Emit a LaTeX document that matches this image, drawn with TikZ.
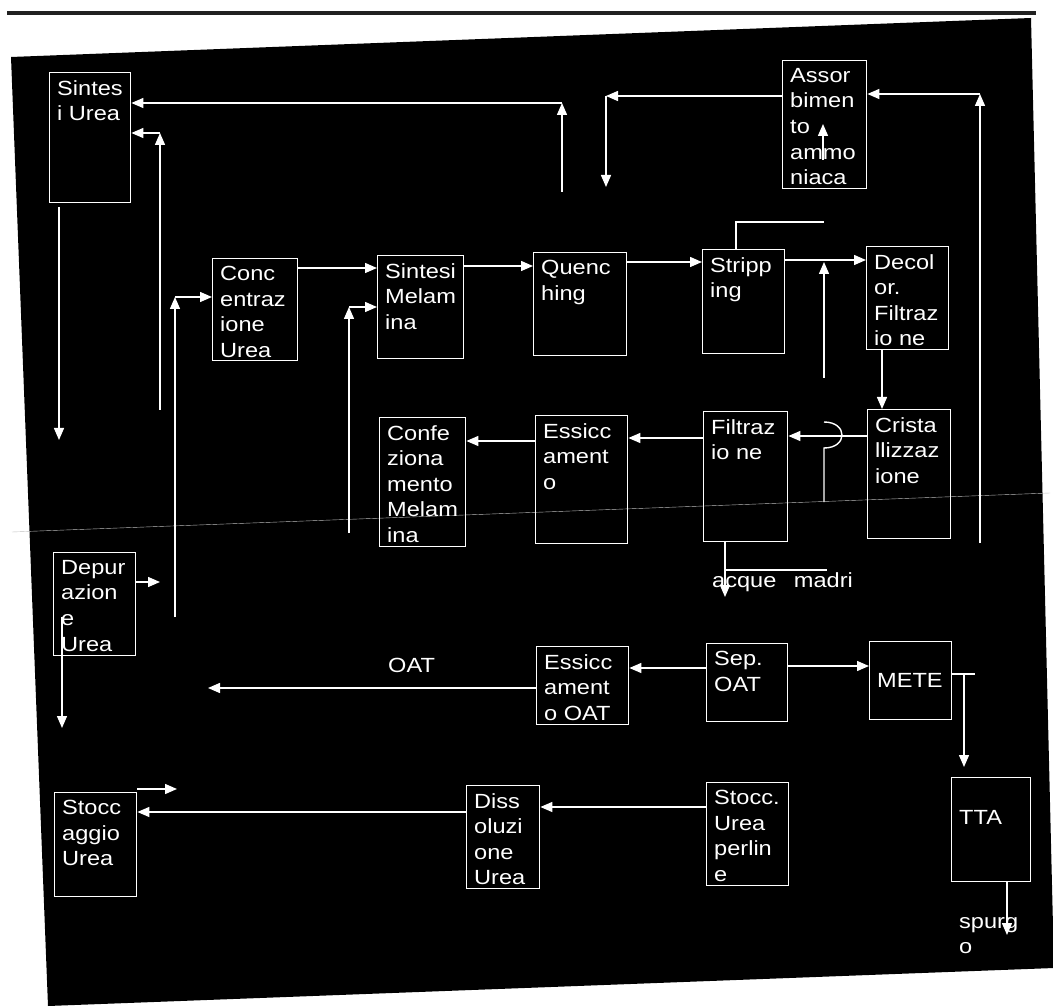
\documentclass[tikz,border=0pt]{standalone}
\usepackage{fontspec}
\setmainfont{Liberation Sans}[FakeStretch=1.15]
\usetikzlibrary{arrows.meta,positioning}

\begin{document}
\begin{tikzpicture}[x=1pt,y=-1pt,
    box/.style={draw=white,line width=1.4pt,anchor=north west,inner sep=0pt},
    txt/.style={anchor=north west,align=left,inner xsep=8pt,inner ysep=8pt,
      text=white,font=\fontsize{20.5}{25.6}\selectfont},
    lbl/.style={inner sep=0pt,align=left,text=white,
      font=\fontsize{20.5}{25.6}\selectfont},
    wire/.style={white,line width=1.4pt},
    arr/.style={wire,-{Triangle[length=12pt,width=10pt]}}
  ]
  \useasboundingbox (0,0) rectangle (1053,1008);
  \fill[white] (0,0) rectangle (1053,1008);
  \fill[black!87] (7,11) rectangle (1036,15);
  \fill[black] (11,57) -- (1031,18) -- (1054,968) -- (48,1006) -- cycle;
  \draw[white!75!black,line width=0.4pt] (12,532) -- (1050,493);

  % boxes
  \node[box,minimum width=81pt,minimum height=130pt,
    label={[txt]north west:{Sintes\\i Urea}}] (sintes) at (49,72) {};
  \node[box,minimum width=84pt,minimum height=128pt,
    label={[txt]north west:{Assor\\bimen\\to\\ammo\\niaca}}] (assor) at (782,60) {};
  \node[box,minimum width=85pt,minimum height=102pt,
    label={[txt]north west:{Conc\\entraz\\ione\\Urea}}] (conc) at (212,258) {};
  \node[box,minimum width=86pt,minimum height=103pt,
    label={[txt]north west:{Sintesi\\Melam\\ina}}] (sintmel) at (377,255) {};
  \node[box,minimum width=93pt,minimum height=103pt,
    label={[txt]north west:{Quenc\\hing}}] (quench) at (533,252) {};
  \node[box,minimum width=82pt,minimum height=104pt,
    label={[txt]north west:{Stripp\\ing}}] (strip) at (702,249) {};
  \node[box,minimum width=82pt,minimum height=103pt,
    label={[txt]north west:{Decol\\or.\\Filtraz\\io ne}}] (decol) at (866,246) {};
  \node[box,minimum width=83pt,minimum height=129pt,
    label={[txt]north west:{Crista\\llizzaz\\ione}}] (crista) at (867,409) {};
  \node[box,minimum width=84pt,minimum height=130pt,
    label={[txt]north west:{Filtraz\\io ne}}] (filtr) at (703,411) {};
  \node[box,minimum width=92pt,minimum height=128pt,
    label={[txt]north west:{Essicc\\ament\\o}}] (essicc) at (535,415) {};
  \node[box,minimum width=86pt,minimum height=129pt,
    label={[txt]north west:{Confe\\ziona\\mento\\Melam\\ina}}] (confez) at (379,417) {};
  \node[box,minimum width=82pt,minimum height=103pt,
    label={[txt]north west:{Depur\\azion\\e\\Urea}}] (depur) at (53,552) {};
  \node[box,minimum width=92pt,minimum height=78pt,
    label={[txt]north west:{Essicc\\ament\\o OAT}}] (essoat) at (536,646) {};
  \node[box,minimum width=81pt,minimum height=78pt,
    label={[txt]north west:{Sep.\\OAT}}] (sepoat) at (706,643) {};
  \node[box,minimum width=82pt,minimum height=78pt,
    label={[txt,anchor=west]west:METE}] (mete) at (869,641) {};
  \node[box,minimum width=79pt,minimum height=104pt,
    label={[txt,inner ysep=33pt]north west:TTA}] (tta) at (951,777) {};
  \node[box,minimum width=82pt,minimum height=103pt,
    label={[txt]north west:{Stocc.\\Urea\\perlin\\e}}] (stoccper) at (706,782) {};
  \node[box,minimum width=73pt,minimum height=103pt,
    label={[txt]north west:{Diss\\oluzi\\one\\Urea}}] (dissol) at (466,785) {};
  \node[box,minimum width=82pt,minimum height=104pt,
    label={[txt]north west:{Stocc\\aggio\\Urea}}] (stocc) at (54,792) {};

  % free texts
  \node[lbl,anchor=base west] (oat) at (388,672) {OAT};
  \node[lbl,anchor=base west] (acque) at (712,587) {acque\hspace{11pt} madri};
  \node[lbl,anchor=north west] (spurgo) at (959,917) {spurg\\o};

  % free ends
  \coordinate (qtop) at (562,192);
  \coordinate (qbend) at (562,103);
  \coordinate (rbot) at (160,410);
  \coordinate (rbend) at (160,133);
  \coordinate (sdtop) at (59,207);
  \coordinate (sdbot) at (59,440);
  \coordinate (abot) at (980,543);
  \coordinate (abend) at (980,94);
  \coordinate (lbend) at (606,96);
  \coordinate (lbot) at (606,187);
  \coordinate (ain) at (823,160);
  \coordinate (aout) at (823,124);
  \coordinate (cbot) at (175,617);
  \coordinate (cbend) at (175,297);
  \coordinate (mbot) at (349,533);
  \coordinate (mbend) at (349,307);
  \coordinate (send) at (824,222);
  \coordinate (htop) at (824,378);
  \coordinate (hend) at (824,262);
  \coordinate (hbot) at (824,502);
  \coordinate (hlow) at (824,448);
  \coordinate (hup) at (824,422);
  \coordinate (wbot) at (725,597);
  \coordinate (wmid) at (725,570);
  \coordinate (wend) at (827,570);
  \coordinate (dend) at (160,582);
  \coordinate (dtop) at (62,617);
  \coordinate (dbot) at (62,728);
  \coordinate (oend) at (208,688);
  \coordinate (tend) at (975,674);
  \coordinate (tbend) at (964,674);
  \coordinate (tbot) at (964,767);
  \coordinate (pbot) at (1007,935);
  \coordinate (uend) at (177,789);

  % top loops
  \draw[arr] (qtop) -- (qbend);
  \draw[arr] (qbend) -- (sintes.east |- qbend);
  \draw[arr] (rbot) -- (rbend);
  \draw[arr] (rbend) -- (sintes.east |- rbend);
  \draw[arr] (sdtop) -- (sdbot);
  \draw[arr] (abot) -- (abend);
  \draw[arr] (abend) -- (assor.east |- abend);
  \draw[arr] (assor.west |- lbend) -- (lbend);
  \draw[arr] (lbend) -- (lbot);
  \draw[arr] (ain) -- (aout);

  % melamine line
  \draw[arr] (cbot) -- (cbend);
  \draw[arr] (cbend) -- (conc.west |- cbend);
  \draw[arr] (mbot) -- (mbend);
  \draw[arr] (mbend) -- (sintmel.west |- mbend);
  \draw[arr] (conc.east |- 0,268) -- (sintmel.west |- 0,268);
  \draw[arr] (sintmel.east |- 0,266) -- (quench.west |- 0,266);
  \draw[arr] (quench.east |- 0,262) -- (strip.west |- 0,262);
  \draw[arr] (strip.east |- 0,260) -- (decol.west |- 0,260);
  \draw[wire] (strip.north -| 736,0) |- (send);
  \draw[arr] (htop) -- (hend);
  \draw[wire] (hbot) -- (hlow) .. controls (848,448) and (848,422) .. (hup);
  \draw[arr] (decol.south -| 882,0) -- (crista.north -| 882,0);
  \draw[arr] (crista.west |- 0,436) -- (filtr.east |- 0,436);
  \draw[arr] (filtr.west |- 0,438) -- (essicc.east |- 0,438);
  \draw[arr] (essicc.west |- 0,441) -- (confez.east |- 0,441);
  \draw[arr] (filtr.south -| wbot) -- (wbot);
  \draw[wire] (wmid) -- (wend);

  % urea and OAT
  \draw[arr] (depur.east |- dend) -- (dend);
  \draw[arr] (dtop) -- (dbot);
  \draw[arr] (essoat.west |- oend) -- (oend);
  \draw[arr] (sepoat.west |- 0,668) -- (essoat.east |- 0,668);
  \draw[arr] (sepoat.east |- 0,666) -- (mete.west |- 0,666);
  \draw[wire] (mete.east |- tend) -- (tend);
  \draw[arr] (tbend) -- (tbot);
  \draw[arr] (tta.south -| pbot) -- (pbot);
  \draw[arr] (stocc.east |- uend) -- (uend);
  \draw[arr] (dissol.west |- 0,812) -- (stocc.east |- 0,812);
  \draw[arr] (stoccper.west |- 0,807) -- (dissol.east |- 0,807);
\end{tikzpicture}
\end{document}
